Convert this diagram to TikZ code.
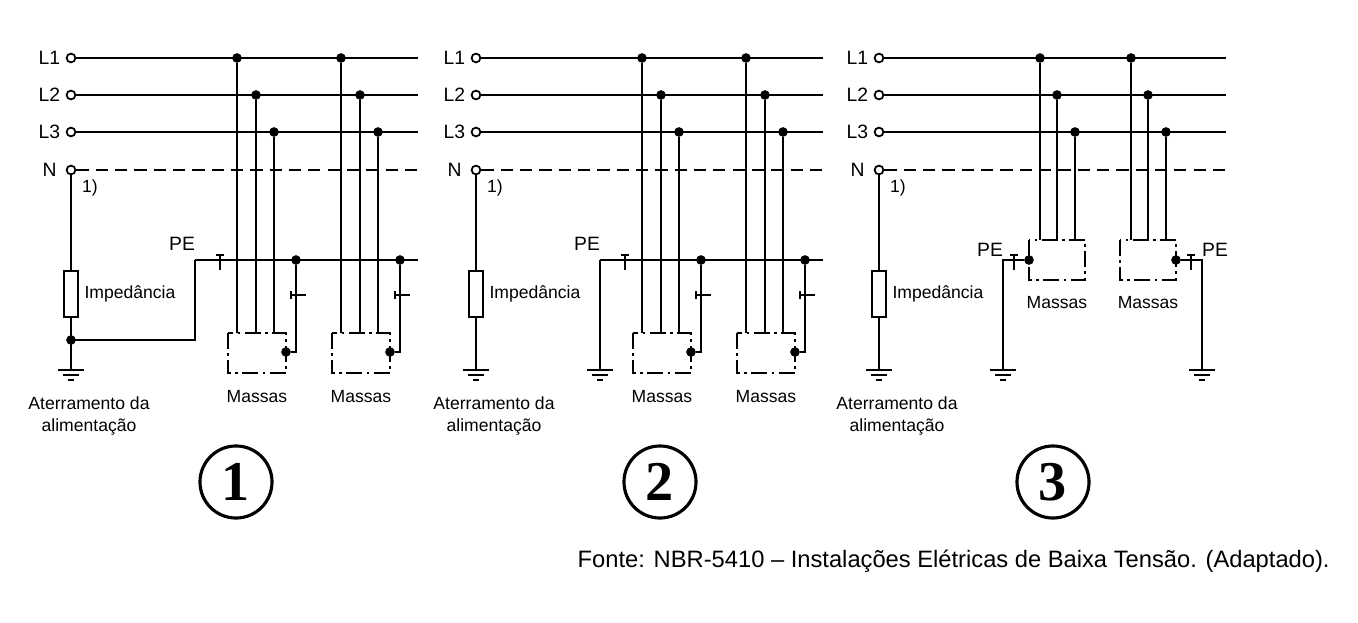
\documentclass[tikz,border=0pt]{standalone}
\usepackage{fontspec}
\setmainfont{Liberation Sans}
\newfontfamily\numfont{Liberation Serif}
\usetikzlibrary{calc}
\usetikzlibrary{positioning}

\tikzset{
  wire/.style={line width=1.4pt},
  massa/.style={line width=1.2pt,dash pattern=on 9pt off 2.5pt on 1.5pt off 2.5pt},
  dot/.style={circle,fill,inner sep=0pt,minimum size=5.5pt},
  lbl/.style={font=\fontsize{10}{11}\selectfont,inner sep=1pt},
  terminal/.style={circle,draw,line width=1pt,inner sep=0pt,minimum size=5pt,fill=white},
  numero/.style={circle,draw,line width=1.8pt,minimum size=41pt,inner sep=0pt,
    font=\numfont\bfseries\fontsize{32}{32}\selectfont}
}
% aterramento
\newcommand{\terra}[1]{%
  \draw[wire] ($(#1)+(-13,0)$) -- ($(#1)+(13,0)$);
  \draw[wire] ($(#1)+(-8,5)$) -- ($(#1)+(8,5)$);
  \draw[wire] ($(#1)+(-3,10)$) -- ($(#1)+(3,10)$);}
% marca sobre o condutor
\newcommand{\marcav}[1]{%
  \draw[line width=0.9pt] ($(#1)+(0,-5)$) -- ($(#1)+(0,10)$);
  \draw[line width=0.9pt] ($(#1)+(-4,-5)$) -- ($(#1)+(4,-5)$);}
\newcommand{\marcah}[1]{%
  \draw[line width=0.9pt] ($(#1)+(-7,0)$) -- ($(#1)+(8,0)$);
  \draw[line width=0.9pt] ($(#1)+(-7,-4)$) -- ($(#1)+(-7,4)$);}

\begin{document}
\begin{tikzpicture}[x=0.02cm,y=-0.02cm]
  \useasboundingbox (0,0) rectangle (1358,622);

  % condutores de alimentacao, tres esquemas
  \foreach \o/\e in {0/1,405/2,808/3} {
    \foreach \n/\y in {L1/58,L2/95,L3/132} {
      \node[terminal] (t\n\e) at (71+\o,\y) {};
      \node[lbl,left=2pt of t\n\e,font=\fontsize{11}{12}\selectfont] {\n};
      \coordinate (f\n\e) at (418+\o,\y);
      \draw[wire] (t\n\e) -- (f\n\e);
    }
    \node[terminal] (tN\e) at (71+\o,170) {};
    \node[lbl,left=4pt of tN\e,font=\fontsize{11}{12}\selectfont] {N};
    \coordinate (fN\e) at (418+\o,170);
    \draw[wire,dash pattern=on 7pt off 4pt] (tN\e) -- (fN\e);
    \node[lbl] at (90+\o,188) {1)};
    % impedancia e aterramento
    \node[draw,line width=1pt,minimum width=8pt,minimum height=26pt,inner sep=0pt]
      (z\e) at (71+\o,294) {};
    \node[lbl,right=2pt of z\e] {Impedância};
    \coordinate (g\e) at (71+\o,370);
    \draw[wire] (tN\e) -- (z\e) -- (g\e);
    \terra{g\e}
    \node[lbl,align=center,font=\fontsize{10}{12}\selectfont] at (89+\o,416)
      {Aterramento da\\alimentação};
  }

  % esquemas 1 e 2: massas e PE comum
  \foreach \o/\e in {0/1,405/2} {
    \foreach \b/\dx in {a/0,b/104} {
      \draw[massa] (228+\o+\dx,333) rectangle (286+\o+\dx,373);
      \node[lbl] at (257+\o+\dx,397) {Massas};
      \foreach \x/\y in {237/58,256/95,274/132} {
        \node[dot] (p\e\b\x) at (\x+\o+\dx,\y) {};
        \draw[wire] (p\e\b\x) -- (\x+\o+\dx,333);
      }
      \node[dot] (pe\e\b) at (296+\o+\dx,260) {};
      \node[dot] (m\e\b) at (286+\o+\dx,352) {};
      \draw[wire] (pe\e\b) |- (m\e\b);
      \marcah{298+\o+\dx,295}
    }
    \coordinate (pe0\e) at (195+\o,260);
    \coordinate (fpe\e) at (418+\o,260);
    \draw[wire] (pe0\e) -- (fpe\e);
    \node[lbl,font=\fontsize{11}{12}\selectfont] at (182+\o,244) {PE};
    \marcav{220+\o,260}
  }
  \coordinate (n1) at (71,340);
  \node[dot] at (n1) {};
  \draw[wire] (pe01) |- (n1);
  \coordinate (g2b) at (600,370);
  \draw[wire] (pe02) -- (g2b);
  \terra{g2b}

  % esquema 3: massas aterradas individualmente
  \foreach \b/\dx in {a/0,b/91} {
    \draw[massa] (1029+\dx,240) rectangle (1085+\dx,280);
    \node[lbl] at (1057+\dx,303) {Massas};
    \foreach \x/\y in {1040/58,1057/95,1075/132} {
      \node[dot] (p3\b\x) at (\x+\dx,\y) {};
      \draw[wire] (p3\b\x) -- (\x+\dx,240);
    }
  }
  \node[dot] (m3a) at (1029,260) {};
  \coordinate (g3a) at (1003,370);
  \draw[wire] (m3a) -- (1003,260) -- (g3a);
  \terra{g3a}
  \marcav{1014,260}
  \node[lbl,font=\fontsize{11}{12}\selectfont] at (990,250) {PE};
  \node[dot] (m3b) at (1176,260) {};
  \coordinate (g3b) at (1202,370);
  \draw[wire] (m3b) -- (1202,260) -- (g3b);
  \terra{g3b}
  \marcav{1191,260}
  \node[lbl,font=\fontsize{11}{12}\selectfont] at (1215,250) {PE};

  % numeracao
  \node[numero] (c1) at (236,482) {1};
  \node[numero] (c2) at (660,482) {2};
  \node[numero] (c3) at (1053,482) {3};

  \node[font=\fontsize{13.5}{15}\selectfont,anchor=east,inner sep=0pt] (fonte) at (1330,561)
    {Fonte: NBR-5410 – Instalações Elétricas de Baixa Tensão. (Adaptado).};
\end{tikzpicture}
\end{document}
